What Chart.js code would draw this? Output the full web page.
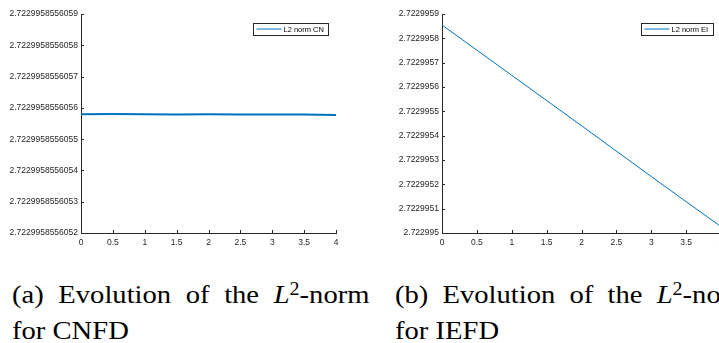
<!DOCTYPE html>
<html>
<head>
<meta charset="utf-8">
<script src="https://cdn.jsdelivr.net/npm/chart.js@4/dist/chart.umd.min.js"></script>
<style>
  body { margin: 0; width: 719px; height: 343px; overflow: hidden; background: #fff; position: relative; }
  #left { position: absolute; left: 0; top: 0; width: 360px; height: 262px; }
  #right { position: absolute; left: 360px; top: 0; width: 359px; height: 262px; overflow: hidden; }
  canvas { display: block; }
  .cap { position: absolute; font-family: "Liberation Serif", "Times New Roman", serif; font-size: 26px; line-height: 26px;
         color: #000; transform-origin: 0 0; transform: scaleX(1.1); white-space: nowrap; }
  .l1 { display: flex; justify-content: space-between; width: 325px; }
  .sup { font-size: 0.7em; position: relative; top: -0.45em; line-height: 0; }
</style>
</head>
<body>
<div id="left"><canvas id="cnChart" width="360" height="262"></canvas></div>
<div id="right"><canvas id="eiChart" width="380" height="262"></canvas></div>

<div class="cap" style="left:12px; top:282px;">
  <div class="l1"><span>(a)</span><span>Evolution</span><span>of</span><span>the</span><span><i>L</i><span class="sup">2</span>-norm</span></div>
</div>
<div class="cap" style="left:12px; top:318px;">for CNFD</div>
<div class="cap" style="left:395px; top:282px;">
  <div class="l1"><span>(b)</span><span>Evolution</span><span>of</span><span>the</span><span><i>L</i><span class="sup">2</span>-norm</span></div>
</div>
<div class="cap" style="left:395px; top:318px;">for IEFD</div>

<script>
// values
const timeTicks = [0, 0.5, 1, 1.5, 2, 2.5, 3, 3.5, 4];

const cnTime = [0, 0.5, 1, 1.5, 2, 2.5, 3, 3.5, 4];
const cnNorm = [2.7229958556055795, 2.7229958556055800, 2.7229958556055795, 2.7229958556055790,
                2.7229958556055793, 2.7229958556055790, 2.7229958556055788, 2.7229958556055785,
                2.7229958556055775];
const cnTicks = [2.7229958556052, 2.7229958556053, 2.7229958556054, 2.7229958556055,
                 2.7229958556056, 2.7229958556057, 2.7229958556058, 2.7229958556059];

const eiTime = [0, 1, 2, 3, 4];
const eiNorm = [2.7229958548, 2.7229956480, 2.7229954410, 2.7229952320, 2.7229950260];
const eiTicks = [2.722995, 2.7229951, 2.7229952, 2.7229953, 2.7229954,
                 2.7229955, 2.7229956, 2.7229957, 2.7229958, 2.7229959];

const axisColor = '#262626';
const lineColor = '#0072BD';
const tickFont = { family: 'Liberation Sans', size: 8.5 };

// MATLAB style ticks pointing into the plot
const innerTicks = {
  id: 'innerTicks',
  afterDraw(chart) {
    const { ctx, chartArea: a, scales: { x, y } } = chart;
    ctx.save();
    ctx.strokeStyle = axisColor;
    ctx.lineWidth = 1;
    ctx.beginPath();
    x.ticks.forEach(t => {
      const px = Math.round(x.getPixelForValue(t.value)) + 0.5;
      ctx.moveTo(px, a.bottom); ctx.lineTo(px, a.bottom - 3);
    });
    y.ticks.forEach(t => {
      const py = Math.round(y.getPixelForValue(t.value)) + 0.5;
      ctx.moveTo(a.left, py); ctx.lineTo(a.left + 3, py);
    });
    ctx.stroke();
    ctx.restore();
  }
};

// boxed legend in the top right corner
const boxLegend = {
  id: 'boxLegend',
  afterDraw(chart, args, opts) {
    const { ctx, chartArea: a } = chart;
    const ds = chart.data.datasets[0];
    ctx.save();
    ctx.font = '7.5px "Liberation Sans"';
    const tw = ctx.measureText(ds.label).width;
    const w = Math.round(tw + 35), h = 12;
    const x0 = Math.round(a.right - opts.right - w) + 0.5, y0 = Math.round(a.top + opts.top) + 0.5;
    ctx.fillStyle = '#fff';
    ctx.fillRect(x0, y0, w, h);
    ctx.strokeStyle = axisColor;
    ctx.lineWidth = 1;
    ctx.strokeRect(x0, y0, w, h);
    ctx.strokeStyle = ds.borderColor;
    ctx.beginPath();
    ctx.moveTo(x0 + 3, y0 + 5.5); ctx.lineTo(x0 + 28, y0 + 5.5);
    ctx.stroke();
    ctx.fillStyle = '#000';
    ctx.textBaseline = 'middle';
    ctx.fillText(ds.label, x0 + 30, y0 + 6.5);
    ctx.restore();
  }
};

function makeChart(id, label, xs, ys, yTicks, lineWidth, pad, yWidth, legendPos) {
  new Chart(document.getElementById(id), {
    type: 'line',
    data: {
      datasets: [{
        label: label,
        data: xs.map((x, i) => ({ x: x, y: ys[i] })),
        borderColor: lineColor,
        borderWidth: lineWidth,
        pointRadius: 0,
        tension: 0,
        fill: false
      }]
    },
    options: {
      responsive: false,
      animation: false,
      layout: { padding: pad },
      plugins: { legend: { display: false }, tooltip: { enabled: false }, boxLegend: legendPos },
      scales: {
        x: {
          type: 'linear', min: 0, max: 4,
          grid: { display: false, drawTicks: false },
          border: { color: axisColor, width: 1 },
          afterBuildTicks: s => { s.ticks = timeTicks.map(v => ({ value: v })); },
          afterFit: s => { s.height = 29; },
          ticks: { font: tickFont, color: axisColor, padding: 5, maxRotation: 0, autoSkip: false,
                   callback: v => String(v) }
        },
        y: {
          type: 'linear', min: yTicks[0], max: yTicks[yTicks.length - 1],
          grid: { display: false, drawTicks: false },
          border: { color: axisColor, width: 1 },
          afterBuildTicks: s => { s.ticks = yTicks.map(v => ({ value: v })); },
          afterFit: s => { s.width = yWidth; },
          ticks: { font: tickFont, color: axisColor, padding: 3, autoSkip: false,
                   callback: v => String(v) }
        }
      }
    },
    plugins: [innerTicks, boxLegend]
  });
}

makeChart('cnChart', 'L2 norm CN', cnTime, cnNorm, cnTicks, 2,
          { top: 14, right: 24, left: 0, bottom: 0 }, 81, { right: 8, top: 9 });
makeChart('eiChart', 'L2 norm EI', eiTime, eiNorm, eiTicks, 1,
          { top: 14, right: 19, left: 0, bottom: 0 }, 82, { right: 8, top: 9 });
</script>
</body>
</html>
